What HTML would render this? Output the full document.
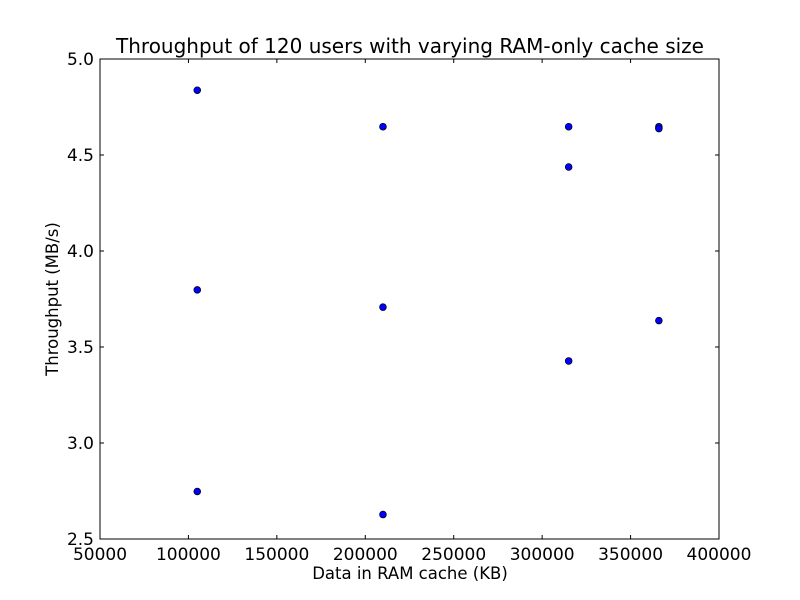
<!DOCTYPE html>
<html><head><meta charset="utf-8"><style>
body{margin:0;background:#fff;}
svg{display:block;font-family:"DejaVu Sans","Liberation Sans",sans-serif;}
</style></head><body>
<svg id="chart" width="800" height="600">
<rect width="800" height="600" fill="#fff"/>
<text x="410" y="53" font-size="20" text-anchor="middle">Throughput of 120 users with varying RAM-only cache size</text>
<g id="ticks"></g>
<g id="points"></g>
<rect x="100" y="59" width="619" height="480" fill="none" stroke="#000" stroke-width="1"/>
<text x="410" y="579" font-size="16.5" text-anchor="middle">Data in RAM cache (KB)</text>
<text transform="translate(58,299) rotate(-90)" font-size="16.5" text-anchor="middle">Throughput (MB/s)</text>
</svg>
<script>
const xVals=[105000,105000,105000,210000,210000,210000,315000,315000,315000,366000,366000,366000];
const yVals=[4.84,3.80,2.75,4.65,3.71,2.63,4.65,4.44,3.43,4.65,4.64,3.64];
const xTicks=[50000,100000,150000,200000,250000,300000,350000,400000];
const yTicks=[2.5,3.0,3.5,4.0,4.5,5.0];
const L=100,R=719,T=59,B=539,x0=50000,x1=400000,y0=2.5,y1=5.0;
const sx=v=>L+(v-x0)/(x1-x0)*(R-L);
const sy=v=>B-(v-y0)/(y1-y0)*(B-T);
const NS="http://www.w3.org/2000/svg";
const tg=document.getElementById('ticks'),pg=document.getElementById('points');
function mk(tag,attrs,parent){const e=document.createElementNS(NS,tag);for(const k in attrs)e.setAttribute(k,attrs[k]);parent.appendChild(e);return e;}
xTicks.forEach(v=>{const x=sx(v);
mk('line',{x1:x,x2:x,y1:B,y2:B-4,stroke:'#000'},tg);
mk('line',{x1:x,x2:x,y1:T,y2:T+4,stroke:'#000'},tg);
const t=mk('text',{x:x,y:B+21,'font-size':17,'text-anchor':'middle'},tg);t.textContent=v;

});
yTicks.forEach(v=>{const y=sy(v);
mk('line',{x1:L,x2:L+4,y1:y,y2:y,stroke:'#000'},tg);
mk('line',{x1:R,x2:R-4,y1:y,y2:y,stroke:'#000'},tg);
const t=mk('text',{x:L-6,y:y+6,'font-size':17,'text-anchor':'end'},tg);t.textContent=v.toFixed(1);

});
xVals.forEach((v,i)=>{const c=mk('circle',{cx:sx(v),cy:sy(yVals[i])+0.5,r:3.4,fill:'#0000ff',stroke:'#000','stroke-width':0.7},pg);

});
</script>
</body></html>
